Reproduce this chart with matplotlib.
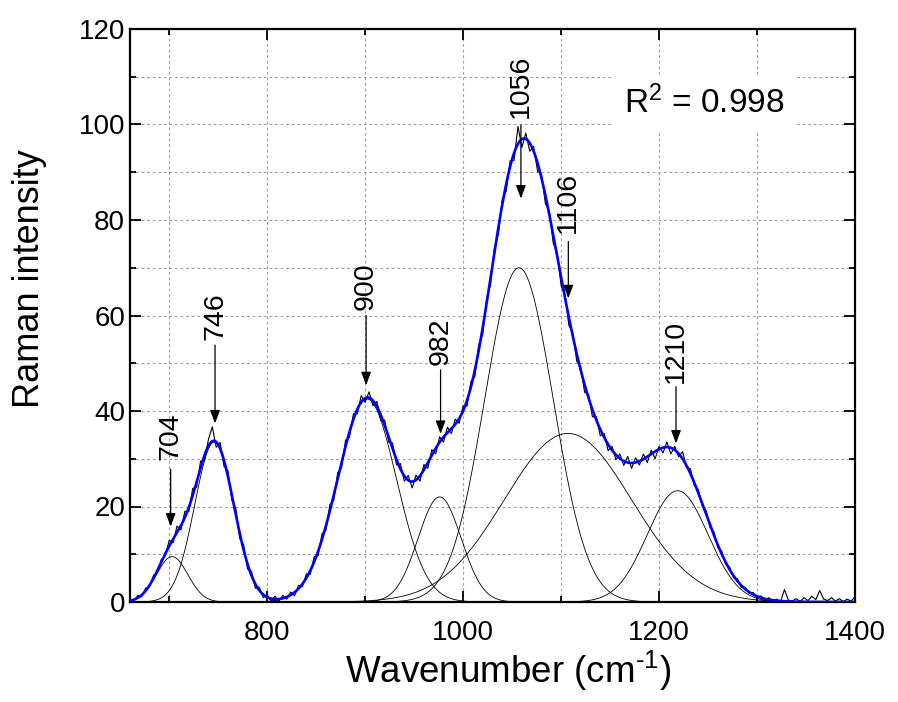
import numpy as np
import matplotlib
matplotlib.use('Agg')
import matplotlib.pyplot as plt
from matplotlib.ticker import MultipleLocator

plt.rcParams['font.family'] = ['Liberation Sans', 'DejaVu Sans']
plt.rcParams['mathtext.fontset'] = 'custom'
plt.rcParams['mathtext.rm'] = 'Liberation Sans'
plt.rcParams['mathtext.it'] = 'Liberation Sans'

# Gaussian fit components (center, height, sigma)
peak_labels = ['704', '746', '900', '982', '1056', '1106', '1210']
centers = [703, 746, 902, 976, 1057, 1107, 1219]
heights = [9.5, 33.5, 42.5, 22.0, 70.0, 35.3, 23.3]
sigmas = [16, 20, 30, 22, 35, 65, 31]
arrow_x = [701.5, 746.8, 901, 977, 1059, 1107.4, 1217.3]
text_y = [29.7, 54.9, 61.2, 49.6, 101.3, 77.2, 45.8]
arrow_start = [27.8, 53.8, 60.0, 48.6, 99.9, 75.5, 45.1]
arrow_tip = [15.8, 37.4, 45.4, 35.2, 84.5, 63.6, 33.2]

# measured spectrum, sampled every 4 cm-1 from 660 to 1400
obs_start, obs_step = 660, 4
obs_y = [0.6, 0.2, 1.4, 1.1, 2.9, 3.2, 5.6, 6.1, 8.9, 9.7,
         12.9, 12.4, 15.9, 15.1, 19.0, 18.9, 23.8, 24.0, 29.5, 29.6,
         34.0, 36.7, 32.4, 33.4, 28.4, 27.5, 21.3, 19.6, 13.3, 12.0,
         6.9, 6.4, 2.9, 3.1, 0.9, 1.5, 0.3, 1.2, 0.2, 1.4,
         0.6, 2.1, 1.3, 3.5, 3.2, 5.9, 5.8, 9.5, 9.7, 14.3,
         15.0, 20.4, 21.3, 27.1, 28.1, 33.9, 34.5, 39.4, 39.4, 43.2,
         41.8, 44.0, 41.1, 42.0, 38.0, 38.1, 33.5, 33.3, 28.7, 29.0,
         25.3, 26.5, 23.9, 26.6, 25.3, 28.8, 28.0, 31.9, 31.0, 34.6,
         33.5, 36.6, 35.3, 38.3, 37.4, 41.1, 41.0, 46.2, 47.2, 53.9,
         56.0, 63.6, 66.4, 74.3, 77.0, 84.4, 86.0, 92.4, 92.5, 99.6,
         95.2, 98.2, 94.4, 95.4, 90.2, 89.6, 83.4, 81.9, 75.1, 73.1,
         66.3, 64.4, 57.9, 56.3, 50.4, 49.3, 43.9, 43.5, 38.8, 38.8,
         34.8, 35.3, 31.7, 32.6, 29.8, 31.0, 28.6, 30.5, 28.0, 30.2,
         28.7, 31.0, 29.2, 31.8, 30.0, 32.6, 31.2, 33.5, 31.0, 32.6,
         30.4, 31.5, 28.2, 27.9, 24.3, 23.6, 20.1, 19.2, 15.6, 14.7,
         11.4, 10.6, 7.9, 7.3, 5.1, 4.9, 3.0, 3.1, 1.8, 2.0,
         1.0, 1.3, 0.5, 0.9, 0.2, 0.6, 0.1, 2.6, 0.4, 0.2,
         0.7, 0.1, 0.9, 0.3, 1.2, 0.5, 2.4, 0.6, 0.3, 0.9,
         0.2, 0.7, 0.1, 0.6, 0.2, 1.1]
obs_x = obs_start + obs_step*np.arange(len(obs_y))

fig = plt.figure(figsize=(8.98, 7.02), dpi=100)
ax = fig.add_axes([130/898, 1-602/702, 725/898, 573/702])

xs = np.linspace(660, 1400, 1481)
comps = [h*np.exp(-(xs-c)**2/(2*s**2)) for c, h, s in zip(centers, heights, sigmas)]
fit = np.sum(comps, axis=0)
ax.plot(obs_x, obs_y, color='black', lw=0.8, zorder=4)
for cp in comps:
    ax.plot(xs, cp, color='black', lw=0.6, zorder=3)
ax.plot(xs, fit, color='#0000ff', lw=1.9, zorder=5)

for lab, xa, ty, ys, yt in zip(peak_labels, arrow_x, text_y, arrow_start, arrow_tip):
    ax.text(xa, ty, lab, rotation=90, ha='center', va='bottom', fontsize=20.5, zorder=6)
    ax.annotate('', xy=(xa, yt), xytext=(xa, ys),
                arrowprops=dict(arrowstyle='-|>,head_length=0.8,head_width=0.3', color='black', lw=0.9, shrinkA=0, shrinkB=0), zorder=6)

ax.text(1246, 104.5, r'R$^{2}$ = 0.998', ha='center', va='center', fontsize=24,
        bbox=dict(facecolor='white', edgecolor='none', pad=8), zorder=4)

ax.set_xlim(660, 1400)
ax.set_ylim(0, 120)
ax.xaxis.set_major_locator(MultipleLocator(200))
ax.xaxis.set_minor_locator(MultipleLocator(100))
ax.yaxis.set_major_locator(MultipleLocator(20))
ax.yaxis.set_minor_locator(MultipleLocator(10))
ax.grid(True, which='both', color='#a0a0a0', ls=(0, (2.5, 2.5)), lw=0.8, zorder=0)
ax.set_axisbelow(True)
ax.tick_params(which='both', direction='in', top=True, right=True, labelsize=20, width=1.3)
ax.tick_params(which='major', length=8)
ax.tick_params(which='minor', length=4.5)
ax.tick_params(axis='x', pad=13)
for sp in ax.spines.values():
    sp.set_linewidth(1.6)
ax.set_xlabel('Wavenumber (cm$^{\\mathregular{\u20101}}$)', fontsize=26.5, labelpad=2)
ax.xaxis.label.set_x(0.521)
ax.set_ylabel('Raman intensity', fontsize=26)
ax.yaxis.set_label_coords(-0.115, 0.564)

fig.savefig('out.png', dpi=100)
